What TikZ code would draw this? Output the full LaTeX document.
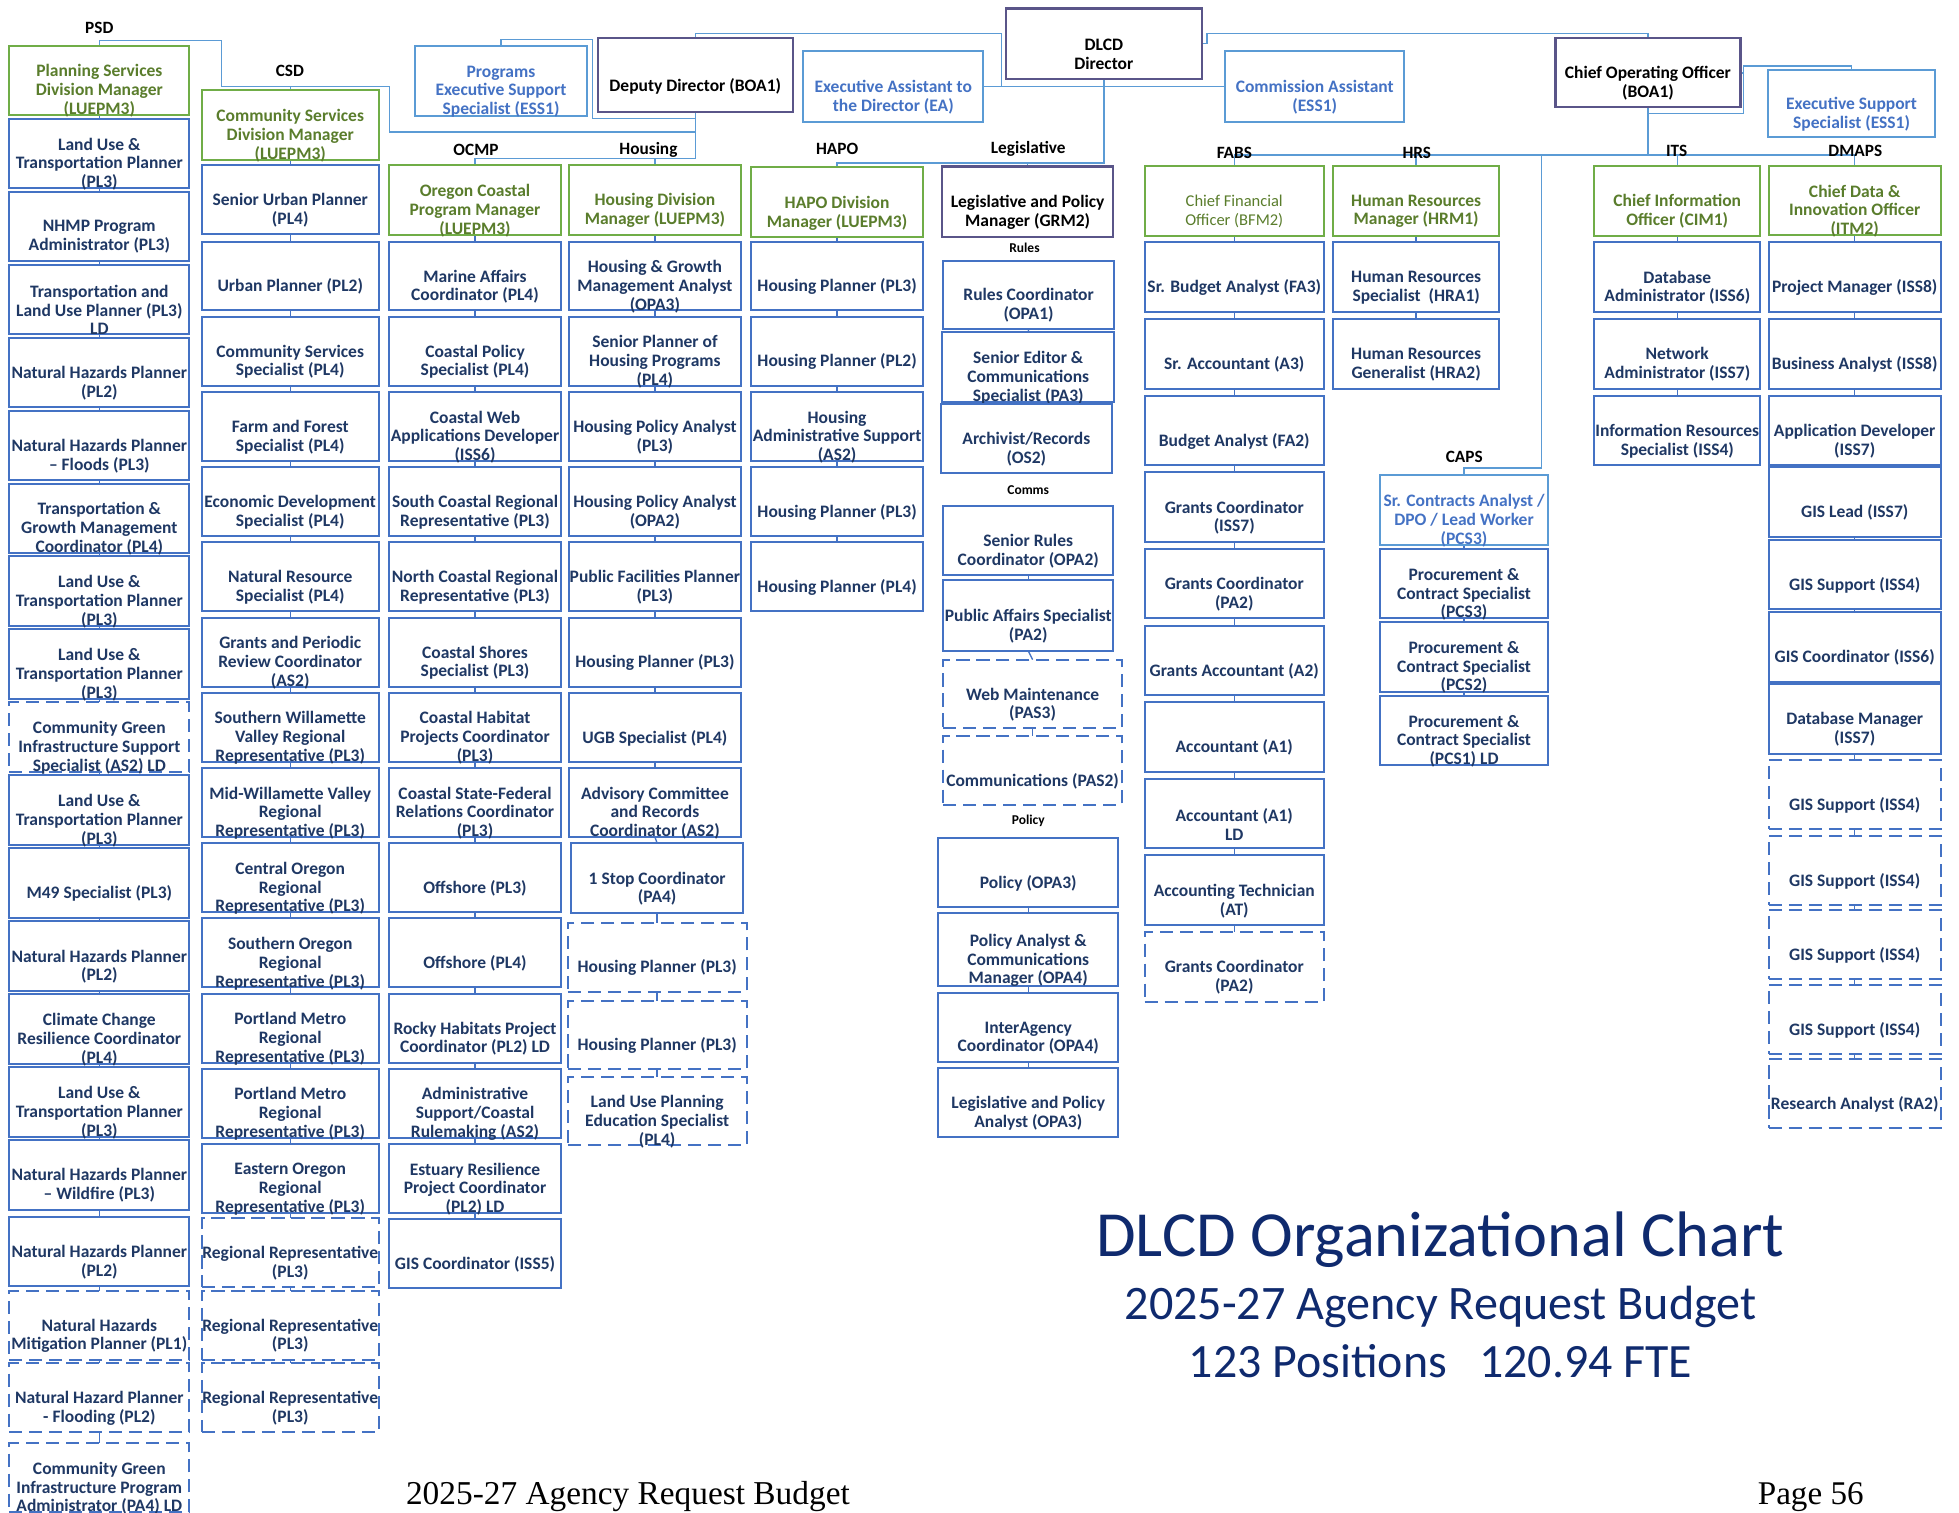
\documentclass[tikz,border=0pt]{standalone}
\usepackage{fontspec}
\setmainfont{Carlito}
\newfontfamily\pagefont{Liberation Serif}
\usetikzlibrary{backgrounds}

\definecolor{boxblue}{HTML}{4472C4}
\definecolor{navy}{HTML}{1F3864}
\definecolor{mgrgreen}{HTML}{70AD47}
\definecolor{mgrtext}{HTML}{5A7D2C}
\definecolor{esslight}{HTML}{5B9BD5}
\definecolor{esstext}{HTML}{4472C4}
\definecolor{execpurple}{HTML}{5A5589}
\definecolor{titlenavy}{HTML}{0F2A6E}

% box: style, name, centre x, top y, width, height, text
\newcommand{\bx}[7]{%
  \node[#1, minimum width=#5pt, minimum height=#6pt, anchor=north] (#2) at (#3,#4) {};
  \node[txt#1] (#2t) at ([yshift=-8.5pt]#2.center) {#7};%
}
\newcommand{\colA}[4]{\bx{#1}{a#2}{79.5}{#3}{144}{55.5}{#4}}
\newcommand{\colB}[4]{\bx{#1}{b#2}{232.3}{#3}{141.5}{55.2}{#4}}
\newcommand{\colC}[4]{\bx{#1}{c#2}{380.2}{#3}{138}{55.2}{#4}}
\newcommand{\colD}[4]{\bx{#1}{d#2}{524.2}{#3}{137}{55.2}{#4}}
\newcommand{\colE}[4]{\bx{#1}{e#2}{670}{#3}{138}{55.2}{#4}}
\newcommand{\colG}[4]{\bx{#1}{g#2}{987.9}{#3}{143.5}{55.7}{#4}}
\newcommand{\colH}[4]{\bx{#1}{h#2}{1133.5}{#3}{133}{55.7}{#4}}
\newcommand{\colI}[4]{\bx{#1}{i#2}{1171.8}{#3}{134.5}{55.5}{#4}}
\newcommand{\colJ}[4]{\bx{#1}{j#2}{1342.5}{#3}{133}{55.7}{#4}}
\newcommand{\colK}[4]{\bx{#1}{k#2}{1484.5}{#3}{137.5}{55.7}{#4}}
% short vertical joins down one column
\newcommand{\joins}[3]{%
  \foreach \i in {#2,...,#3}{%
    \pgfmathtruncatemacro\j{\i-1}%
    \draw[tick] (#1\j.south) -- (#1\i.north);}%
}

\begin{document}
\begin{tikzpicture}[x=1pt,y=-1pt,
  every node/.style={inner sep=0pt, outer sep=0pt},
  base/.style={draw, fill=white, line width=1.6pt, rectangle},
  pbox/.style={base, draw=boxblue},
  dbox/.style={base, draw=boxblue, dash pattern=on 10.5pt off 5.5pt},
  gbox/.style={base, draw=mgrgreen},
  lbox/.style={gbox},
  ebox/.style={base, draw=esslight},
  xbox/.style={base, draw=execpurple, line width=1.8pt},
  boxfont/.style={font=\fontsize{14}{15}\selectfont\bfseries, align=center},
  txtpbox/.style={boxfont, text=navy},
  txtdbox/.style={txtpbox},
  txtgbox/.style={boxfont, text=mgrtext},
  txtlbox/.style={font=\fontsize{13.2}{15}\selectfont, align=center, text=mgrtext},
  txtebox/.style={boxfont, text=esstext},
  txtxbox/.style={boxfont, text=black},
  link/.style={draw=esslight, line width=1.1pt},
  tick/.style={draw=boxblue, line width=1.1pt},
  lab/.style={font=\fontsize{13.8}{15}\selectfont\bfseries, text=black},
  sublab/.style={font=\fontsize{10.8}{12}\selectfont\bfseries, text=black},
]
\useasboundingbox (0,0) rectangle (1568,1211);

% ---------- executive row ----------
\bx{ebox}{pes}{401}{36.8}{138}{56}{Programs\\Executive Support\\Specialist (ESS1)}
\bx{xbox}{dep}{556.5}{30.7}{156}{59.2}{Deputy Director (BOA1)}
\bx{ebox}{ea}{715}{40.8}{144}{57.2}{Executive Assistant to\\the Director (EA)}
\bx{xbox}{dlcd}{883.5}{6.7}{157}{56.5}{DLCD\\Director}
\bx{ebox}{com}{1052.3}{40.8}{143.4}{57.2}{Commission Assistant\\(ESS1)}
\bx{xbox}{coo}{1319}{30.7}{148}{55.2}{Chief Operating Officer\\(BOA1)}
\bx{ebox}{ess2}{1482}{56}{134}{54}{Executive Support\\Specialist (ESS1)}

% ---------- PSD ----------
\colA{gbox}{0}{36.5}{Planning Services\\Division Manager\\(LUEPM3)}
\colA{pbox}{1}{95.0}{Land Use \&\\Transportation Planner\\(PL3)}
\colA{pbox}{2}{153.4}{NHMP Program\\Administrator (PL3)}
\colA{pbox}{3}{211.8}{Transportation and\\Land Use Planner (PL3)\\LD}
\colA{pbox}{4}{270.2}{Natural Hazards Planner\\(PL2)}
\colA{pbox}{5}{328.6}{Natural Hazards Planner\\– Floods (PL3)}
\colA{pbox}{6}{387.0}{Transportation \&\\Growth Management\\Coordinator (PL4)}
\colA{pbox}{7}{445.4}{Land Use \&\\Transportation Planner\\(PL3)}
\colA{pbox}{8}{503.8}{Land Use \&\\Transportation Planner\\(PL3)}
\colA{dbox}{9}{562.2}{Community Green\\Infrastructure Support\\Specialist (AS2) LD}
\colA{pbox}{10}{620.6}{Land Use \&\\Transportation Planner\\(PL3)}
\colA{pbox}{11}{679.0}{M49 Specialist (PL3)}
\colA{pbox}{12}{737.4}{Natural Hazards Planner\\(PL2)}
\colA{pbox}{13}{795.8}{Climate Change\\Resilience Coordinator\\(PL4)}
\colA{pbox}{14}{854.2}{Land Use \&\\Transportation Planner\\(PL3)}
\colA{pbox}{15}{912.6}{Natural Hazards Planner\\– Wildfire (PL3)}
\colA{pbox}{16}{974.0}{Natural Hazards Planner\\(PL2)}
\colA{dbox}{17}{1033.0}{Natural Hazards\\Mitigation Planner (PL1)}
\colA{dbox}{18}{1091.0}{Natural Hazard Planner\\- Flooding (PL2)}
\colA{dbox}{19}{1155.0}{Community Green\\Infrastructure Program\\Administrator (PA4) LD}

% ---------- CSD ----------
\bx{gbox}{b0}{232.3}{72}{141.5}{56}{Community Services\\Division Manager\\(LUEPM3)}
\colB{pbox}{1}{132.0}{Senior Urban Planner\\(PL4)}
\colB{pbox}{2}{193.3}{Urban Planner (PL2)}
\colB{pbox}{3}{253.5}{Community Services\\Specialist (PL4)}
\colB{pbox}{4}{313.7}{Farm and Forest\\Specialist (PL4)}
\colB{pbox}{5}{373.9}{Economic Development\\Specialist (PL4)}
\colB{pbox}{6}{434.1}{Natural Resource\\Specialist (PL4)}
\colB{pbox}{7}{494.3}{Grants and Periodic\\Review Coordinator\\(AS2)}
\colB{pbox}{8}{554.5}{Southern Willamette\\Valley Regional\\Representative (PL3)}
\colB{pbox}{9}{614.7}{Mid-Willamette Valley\\Regional\\Representative (PL3)}
\colB{pbox}{10}{674.9}{Central Oregon\\Regional\\Representative (PL3)}
\colB{pbox}{11}{735.1}{Southern Oregon\\Regional\\Representative (PL3)}
\colB{pbox}{12}{795.3}{Portland Metro\\Regional\\Representative (PL3)}
\colB{pbox}{13}{855.5}{Portland Metro\\Regional\\Representative (PL3)}
\colB{pbox}{14}{915.7}{Eastern Oregon\\Regional\\Representative (PL3)}
\colB{dbox}{15}{975.0}{Regional Representative\\(PL3)}
\colB{dbox}{16}{1033.0}{Regional Representative\\(PL3)}
\colB{dbox}{17}{1091.0}{Regional Representative\\(PL3)}

% ---------- OCMP ----------
\bx{gbox}{c0}{380.2}{132}{138}{56}{Oregon Coastal\\Program Manager\\(LUEPM3)}
\colC{pbox}{1}{193.3}{Marine Affairs\\Coordinator (PL4)}
\colC{pbox}{2}{253.5}{Coastal Policy\\Specialist (PL4)}
\colC{pbox}{3}{313.7}{Coastal Web\\Applications Developer\\(ISS6)}
\colC{pbox}{4}{373.9}{South Coastal Regional\\Representative (PL3)}
\colC{pbox}{5}{434.1}{North Coastal Regional\\Representative (PL3)}
\colC{pbox}{6}{494.3}{Coastal Shores\\Specialist (PL3)}
\colC{pbox}{7}{554.5}{Coastal Habitat\\Projects Coordinator\\(PL3)}
\colC{pbox}{8}{614.7}{Coastal State-Federal\\Relations Coordinator\\(PL3)}
\colC{pbox}{9}{674.9}{Offshore (PL3)}
\colC{pbox}{10}{735.1}{Offshore (PL4)}
\colC{pbox}{11}{795.3}{Rocky Habitats Project\\Coordinator (PL2) LD}
\colC{pbox}{12}{855.5}{Administrative\\Support/Coastal\\Rulemaking (AS2)}
\colC{pbox}{13}{915.7}{Estuary Resilience\\Project Coordinator\\(PL2) LD}
\colC{pbox}{14}{975.9}{GIS Coordinator (ISS5)}

% ---------- Housing ----------
\bx{gbox}{d0}{524.2}{132}{137}{56}{Housing Division\\Manager (LUEPM3)}
\colD{pbox}{1}{193.3}{Housing \& Growth\\Management Analyst\\(OPA3)}
\colD{pbox}{2}{253.5}{Senior Planner of\\Housing Programs\\(PL4)}
\colD{pbox}{3}{313.7}{Housing Policy Analyst\\(PL3)}
\colD{pbox}{4}{373.9}{Housing Policy Analyst\\(OPA2)}
\colD{pbox}{5}{434.1}{Public Facilities Planner\\(PL3)}
\colD{pbox}{6}{494.3}{Housing Planner (PL3)}
\colD{pbox}{7}{554.5}{UGB Specialist (PL4)}
\colD{pbox}{8}{614.7}{Advisory Committee\\and Records\\Coordinator (AS2)}
\bx{pbox}{d9}{526}{675}{138}{55.7}{1 Stop Coordinator\\(PA4)}
\bx{dbox}{d10}{526}{738.5}{143}{55.2}{Housing Planner (PL3)}
\bx{dbox}{d11}{526}{801}{143}{55}{Housing Planner (PL3)}
\bx{dbox}{d12}{526}{861.7}{143}{55.1}{Land Use Planning\\Education Specialist\\(PL4)}

% ---------- HAPO ----------
\bx{gbox}{e0}{670}{134}{138}{56}{HAPO Division\\Manager (LUEPM3)}
\colE{pbox}{1}{193.3}{Housing Planner (PL3)}
\colE{pbox}{2}{253.5}{Housing Planner (PL2)}
\colE{pbox}{3}{313.7}{Housing\\Administrative Support\\(AS2)}
\colE{pbox}{4}{373.9}{Housing Planner (PL3)}
\colE{pbox}{5}{434.1}{Housing Planner (PL4)}

% ---------- Legislative ----------
\bx{xbox}{f0}{822.5}{133.3}{137}{56.5}{Legislative and Policy\\Manager (GRM2)}
\bx{pbox}{f1}{823.3}{208.5}{137.3}{55}{Rules Coordinator\\(OPA1)}
\bx{pbox}{f2}{823}{266}{138}{56}{Senior Editor \&\\Communications\\Specialist (PA3)}
\bx{pbox}{f3}{821.5}{323}{137}{55.7}{Archivist/Records\\(OS2)}
\bx{pbox}{f4}{823}{404.8}{136}{55.2}{Senior Rules\\Coordinator (OPA2)}
\bx{pbox}{f5}{823}{464.5}{136}{56.5}{Public Affairs Specialist\\(PA2)}
\bx{dbox}{f6}{826.5}{528}{143}{55}{Web Maintenance\\(PAS3)}
\bx{dbox}{f7}{826.5}{589}{143}{55}{Communications (PAS2)}
\bx{pbox}{f8}{823}{670.7}{144}{55}{Policy (OPA3)}
\bx{pbox}{f9}{823}{731}{144}{58.5}{Policy Analyst \&\\Communications\\Manager (OPA4)}
\bx{pbox}{f10}{823}{794.7}{144}{55.3}{InterAgency\\Coordinator (OPA4)}
\bx{pbox}{f11}{823}{855}{144}{55}{Legislative and Policy\\Analyst (OPA3)}

% ---------- FABS ----------
\colG{lbox}{0}{132.8}{Chief Financial\\Officer (BFM2)}
\colG{pbox}{1}{194.0}{Sr. Budget Analyst (FA3)}
\colG{pbox}{2}{255.3}{Sr. Accountant (A3)}
\colG{pbox}{3}{316.7}{Budget Analyst (FA2)}
\colG{pbox}{4}{378.0}{Grants Coordinator\\(ISS7)}
\colG{pbox}{5}{439.3}{Grants Coordinator\\(PA2)}
\colG{pbox}{6}{500.7}{Grants Accountant (A2)}
\colG{pbox}{7}{562.0}{Accountant (A1)}
\colG{pbox}{8}{623.3}{Accountant (A1)\\LD}
\colG{pbox}{9}{684.7}{Accounting Technician\\(AT)}
\colG{dbox}{10}{746.0}{Grants Coordinator\\(PA2)}

% ---------- HRS ----------
\colH{gbox}{0}{132.8}{Human Resources\\Manager (HRM1)}
\colH{pbox}{1}{194.0}{Human Resources\\Specialist\ \ (HRA1)}
\colH{pbox}{2}{255.3}{Human Resources\\Generalist (HRA2)}

% ---------- CAPS ----------
\colI{ebox}{1}{380.5}{Sr. Contracts Analyst /\\DPO / Lead Worker\\(PCS3)}
\colI{pbox}{2}{439.5}{Procurement \&\\Contract Specialist\\(PCS3)}
\colI{pbox}{3}{498.0}{Procurement \&\\Contract Specialist\\(PCS2)}
\colI{pbox}{4}{557.0}{Procurement \&\\Contract Specialist\\(PCS1) LD}

% ---------- ITS ----------
\colJ{gbox}{0}{132.8}{Chief Information\\Officer (CIM1)}
\colJ{pbox}{1}{194.0}{Database\\Administrator (ISS6)}
\colJ{pbox}{2}{255.3}{Network\\Administrator (ISS7)}
\colJ{pbox}{3}{316.7}{Information Resources\\Specialist (ISS4)}

% ---------- DMAPS ----------
\colK{gbox}{0}{132.5}{Chief Data \&\\Innovation Officer\\(ITM2)}
\colK{pbox}{1}{194.0}{Project Manager (ISS8)}
\colK{pbox}{2}{255.5}{Business Analyst (ISS8)}
\colK{pbox}{3}{316.7}{Application Developer\\(ISS7)}
\colK{pbox}{4}{374.0}{GIS Lead (ISS7)}
\colK{pbox}{5}{432.0}{GIS Support (ISS4)}
\colK{pbox}{6}{490.0}{GIS Coordinator (ISS6)}
\colK{pbox}{7}{547.5}{Database Manager\\(ISS7)}
\colK{dbox}{8}{608.0}{GIS Support (ISS4)}
\colK{dbox}{9}{668.8}{GIS Support (ISS4)}
\colK{dbox}{10}{728.0}{GIS Support (ISS4)}
\colK{dbox}{11}{788.0}{GIS Support (ISS4)}
\colK{dbox}{12}{847.5}{Research Analyst (RA2)}

% ---------- unit labels ----------
\node[lab] (lpsd) at (79.5,22) {PSD};
\node[lab] (lcsd) at (232,57) {CSD};
\node[lab] (locmp) at (381,120) {OCMP};
\node[lab] (lhous) at (519,120) {Housing};
\node[lab] (lhapo) at (670,119) {HAPO};
\node[lab] (lleg) at (823,119) {Legislative};
\node[lab] (lfabs) at (988,122) {FABS};
\node[lab] (lhrs) at (1134,122) {HRS};
\node[lab] (lits) at (1342,121) {ITS};
\node[lab] (ldmaps) at (1485,121) {DMAPS};
\node[lab] (lcaps) at (1172,366) {CAPS};
\node[sublab] (lrules) at (820,198) {Rules};
\node[sublab] (lcomms) at (823,392) {Comms};
\node[sublab] (lpolicy) at (823,657) {Policy};

% ---------- titles ----------
\node[anchor=base, text=titlenavy, font=\fontsize{51.5}{58}\selectfont] (title) at (1153,1006) {DLCD Organizational Chart};
\node[anchor=base, text=titlenavy, font=\fontsize{38.5}{44}\selectfont] (subtitle) at (1153,1056) {2025-27 Agency Request Budget};
\node[anchor=base, text=titlenavy, font=\fontsize{38.3}{44}\selectfont] (counts) at (1153,1102.6) {123 Positions\ \ \ 120.94 FTE};
\node[anchor=base west, font=\pagefont\fontsize{26.7}{30}\selectfont] (foot) at (325,1204) {2025-27 Agency Request Budget};
\node[anchor=base west, font=\pagefont\fontsize{26.5}{30}\selectfont] (page) at (1407,1204) {Page 56};

% ---------- reporting lines, behind the boxes ----------
\begin{pgfonlayer}{background}
\fill[white] (0,0) rectangle (1568,1211);
\coordinate (psdrun) at (177.5,32.5);
\coordinate (csdrun) at (312,69);
\coordinate (deprun) at (556.5,105.6);
\coordinate (pesrun) at (474,31.5);
\coordinate (deplow) at (556.5,126.7);
\coordinate (deptop) at (801.6,26.7);
\coordinate (dirlow) at (670,130.5);
\coordinate (dirside) at (966,26.7);
\coordinate (coolow) at (1319,124);
\coordinate (capsjoin) at (1234,124);
\coordinate (capsrun) at (1171.8,374.7);
\coordinate (cooside) at (1395.7,52.8);

\draw[link] (a0.north) |- (psdrun) |- (csdrun) |- (deprun) -- (dep.south);
\draw[link] (b0.north) -- (b0.north |- csdrun);
\draw[link] (pes.north) |- (pesrun) |- (dep.south |- 0,94.7);
\draw[link] (dep.south) -- (deplow) -| (c0.north);
\draw[link] (d0.north) |- (deplow);
\draw[link] (dep.north) |- (deptop) -- (deptop |- ea.east);
\draw[link] (ea.east) -- (com.west);
\draw[link] (dlcd.south) |- (dirlow) -- (e0.north);
\draw[link] (f0.north) -- (f0.north |- dirlow);
\draw[link] (dlcd.east) -| (dirside) -| (coo.north);
\draw[link] (coo.south) -- (coolow);
\draw[link] (coo.east) -- (coo.east -| cooside);
\draw[link] (g0.north) |- (k0.north |- coolow) -- (k0.north);
\draw[link] (h0.north) -- (h0.north |- coolow);
\draw[link] (j0.north) -- (j0.north |- coolow);
\draw[link] (capsjoin) |- (capsrun) -- (i1.north);
\draw[link] (coo.south |- 0,90.7) -| (cooside) -| (ess2.north);

\joins{a}{1}{19}
\joins{b}{1}{17}
\joins{c}{1}{14}
\joins{d}{1}{12}
\joins{e}{1}{5}
\joins{f}{2}{3}
\joins{f}{5}{7}
\joins{f}{9}{11}
\joins{g}{1}{10}
\joins{h}{1}{2}
\joins{i}{2}{4}
\joins{j}{1}{3}
\joins{k}{1}{12}
\end{pgfonlayer}
\end{tikzpicture}
\end{document}
